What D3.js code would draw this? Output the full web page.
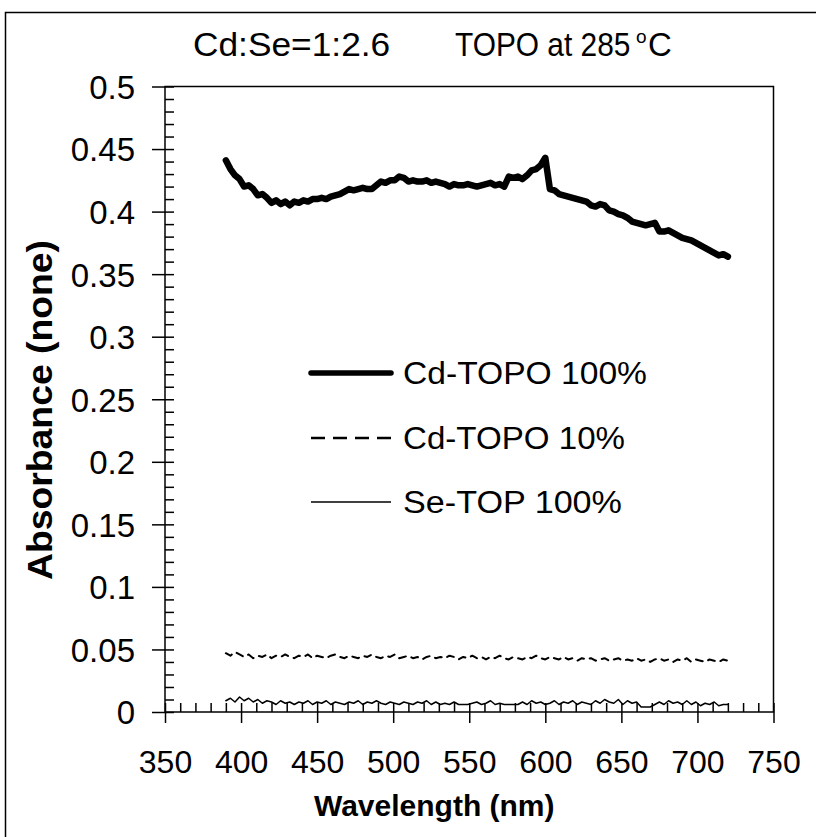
<!DOCTYPE html>
<html>
<head>
<meta charset="utf-8">
<script src="https://cdn.jsdelivr.net/npm/d3@7/dist/d3.min.js"></script>
<style>
  html, body { margin: 0; padding: 0; background: #fff; }
  svg { display: block; }
  text { font-family: "Liberation Sans", Arial, sans-serif; fill: #000; }
</style>
</head>
<body>
<svg id="chart" width="816" height="837"></svg>
<script>
// Absorbance spectra sampled every 3 nm from 390 to 720 nm
const wavelengths = d3.range(390, 721, 3);

const cdTopo100 = [
  0.441, 0.434, 0.429, 0.426, 0.420, 0.421, 0.418, 0.413, 0.414, 0.411,
  0.407, 0.409, 0.406, 0.408, 0.405, 0.408, 0.407, 0.409, 0.408, 0.410,
  0.410, 0.411, 0.410, 0.412, 0.413, 0.414, 0.416, 0.418, 0.417, 0.418,
  0.419, 0.418, 0.418, 0.421, 0.424, 0.423, 0.425, 0.425, 0.428, 0.427,
  0.424, 0.425, 0.424, 0.424, 0.425, 0.423, 0.424, 0.423, 0.422, 0.420,
  0.422, 0.421, 0.421, 0.422, 0.421, 0.420, 0.421, 0.422, 0.423, 0.421,
  0.422, 0.420, 0.428, 0.427, 0.428, 0.426, 0.429, 0.433, 0.434, 0.437,
  0.443, 0.418, 0.417, 0.414, 0.413, 0.412, 0.411, 0.410, 0.409, 0.408,
  0.405, 0.404, 0.406, 0.405, 0.401, 0.400, 0.398, 0.397, 0.395, 0.392,
  0.391, 0.390, 0.389, 0.390, 0.391, 0.384, 0.384, 0.385, 0.383, 0.381,
  0.379, 0.378, 0.377, 0.375, 0.373, 0.371, 0.369, 0.367, 0.365, 0.366,
  0.364
];

const cdTopo10 = [
  0.047, 0.045, 0.048, 0.046, 0.044, 0.046, 0.043, 0.045, 0.044, 0.046,
  0.043, 0.045, 0.044, 0.046, 0.044, 0.043, 0.045, 0.044, 0.046, 0.043,
  0.045, 0.044, 0.043, 0.045, 0.046, 0.044, 0.043, 0.045, 0.044, 0.043,
  0.045, 0.044, 0.046, 0.044, 0.043, 0.045, 0.044, 0.046, 0.043, 0.044,
  0.045, 0.043, 0.044, 0.042, 0.044, 0.045, 0.043, 0.044, 0.043, 0.045,
  0.044, 0.042, 0.044, 0.043, 0.045, 0.043, 0.044, 0.042, 0.044, 0.043,
  0.045, 0.043, 0.042, 0.044, 0.043, 0.042, 0.044, 0.043, 0.045, 0.043,
  0.042, 0.044, 0.043, 0.042, 0.044, 0.042, 0.043, 0.041, 0.043, 0.042,
  0.043, 0.041, 0.042, 0.043, 0.041, 0.042, 0.043, 0.041, 0.042, 0.041,
  0.043, 0.041, 0.042, 0.040, 0.042, 0.043, 0.041, 0.042, 0.040, 0.042,
  0.041, 0.043, 0.040, 0.042, 0.041, 0.040, 0.042, 0.041, 0.040, 0.042,
  0.041
];

const seTop100 = [
  0.009, 0.011, 0.008, 0.012, 0.009, 0.011, 0.008, 0.010, 0.007, 0.009,
  0.008, 0.006, 0.009, 0.007, 0.008, 0.006, 0.008, 0.007, 0.009, 0.006,
  0.008, 0.007, 0.009, 0.006, 0.008, 0.007, 0.006, 0.008, 0.007, 0.009,
  0.006, 0.008, 0.007, 0.009, 0.007, 0.006, 0.008, 0.007, 0.006, 0.008,
  0.007, 0.006, 0.008, 0.007, 0.009, 0.006, 0.008, 0.006, 0.007, 0.006,
  0.008, 0.006, 0.006, 0.006, 0.007, 0.008, 0.006, 0.007, 0.009, 0.006,
  0.007, 0.006, 0.006, 0.006, 0.006, 0.008, 0.006, 0.009, 0.007, 0.008,
  0.006, 0.007, 0.009, 0.006, 0.008, 0.007, 0.009, 0.006, 0.008, 0.007,
  0.006, 0.009, 0.007, 0.010, 0.008, 0.007, 0.010, 0.006, 0.009, 0.007,
  0.008, 0.004, 0.004, 0.004, 0.006, 0.008, 0.006, 0.009, 0.007, 0.008,
  0.006, 0.009, 0.006, 0.008, 0.005, 0.007, 0.006, 0.008, 0.005, 0.006,
  0.006
];

const seriesNames = ["Cd-TOPO 100%", "Cd-TOPO 10%", "Se-TOP 100%"];
const xTicks = [350, 400, 450, 500, 550, 600, 650, 700, 750];
const yTicks = [0, 0.05, 0.1, 0.15, 0.2, 0.25, 0.3, 0.35, 0.4, 0.45, 0.5];
const xMinorStep = 10;
const yMinorStep = 0.01;

const svg = d3.select("#chart");
const W = 816, H = 837;
const plot = { left: 165, right: 773.5, top: 86.5, bottom: 712 };

svg.append("rect").attr("width", W).attr("height", H).attr("fill", "#fff");
// outer chart frame
svg.append("rect")
  .attr("x", 5.5).attr("y", 12.5).attr("width", 840).attr("height", 850)
  .attr("fill", "none").attr("stroke", "#000").attr("stroke-width", 1.5);

const x = d3.scaleLinear().domain([350, 750]).range([plot.left, plot.right]);
const y = d3.scaleLinear().domain([0, 0.5]).range([plot.bottom, plot.top]);

const xMinor = d3.range(350, 750.1, xMinorStep);
const yMinor = d3.range(0, 0.5001, yMinorStep);

// minor ticks (inside)
svg.append("g").attr("transform", `translate(0,${plot.bottom})`)
  .call(d3.axisBottom(x).tickValues(xMinor).tickSize(-9).tickSizeOuter(0).tickFormat(""))
  .call(g => g.select(".domain").remove())
  .call(g => g.selectAll("line").attr("stroke-width", 1.5));
svg.append("g").attr("transform", `translate(${plot.left},0)`)
  .call(d3.axisLeft(y).tickValues(yMinor).tickSize(-9).tickSizeOuter(0).tickFormat(""))
  .call(g => g.select(".domain").remove())
  .call(g => g.selectAll("line").attr("stroke-width", 1.5));

// major ticks with labels (outside)
const xAxis = svg.append("g").attr("transform", `translate(0,${plot.bottom})`)
  .call(d3.axisBottom(x).tickValues(xTicks).tickSize(11).tickSizeOuter(0).tickFormat(d => d))
  .call(g => g.select(".domain").remove())
  .call(g => g.selectAll("line").attr("stroke-width", 1.5));
xAxis.selectAll("text")
  .attr("y", 61).attr("dy", null)
  .style("font-size", "32px").style("font-family", "Liberation Sans, Arial, sans-serif");

const yAxis = svg.append("g").attr("transform", `translate(${plot.left},0)`)
  .call(d3.axisLeft(y).tickValues(yTicks).tickSize(13).tickSizeOuter(0).tickFormat(d => String(d)))
  .call(g => g.select(".domain").remove())
  .call(g => g.selectAll("line").attr("stroke-width", 1.5));
yAxis.selectAll("text")
  .attr("x", -30).attr("dy", "0.36em")
  .style("font-size", "33px").style("font-family", "Liberation Sans, Arial, sans-serif");

// plot frame
svg.append("rect")
  .attr("x", plot.left).attr("y", plot.top)
  .attr("width", plot.right - plot.left).attr("height", plot.bottom - plot.top)
  .attr("fill", "none").attr("stroke", "#000").attr("stroke-width", 1.5);

// series
const series = [
  { name: seriesNames[0], values: cdTopo100, width: 6.5, dash: null },
  { name: seriesNames[1], values: cdTopo10, width: 2, dash: "7,6" },
  { name: seriesNames[2], values: seTop100, width: 1.5, dash: null }
];
const line = d3.line().x(d => x(d[0])).y(d => y(d[1]));
series.forEach(s => {
  svg.append("path")
    .datum(wavelengths.map((w, i) => [w, s.values[i]]))
    .attr("d", line)
    .attr("fill", "none").attr("stroke", "#000")
    .attr("stroke-width", s.width)
    .attr("stroke-linejoin", "round").attr("stroke-linecap", "round")
    .attr("stroke-dasharray", s.dash);
});

// legend
const legendRows = [373, 438, 502];
const legendDash = [null, "14,8", null];
const legendWidths = [244, 222, 219];
series.forEach((s, i) => {
  svg.append("line")
    .attr("x1", 311).attr("x2", 391)
    .attr("y1", legendRows[i]).attr("y2", legendRows[i])
    .attr("stroke", "#000").attr("stroke-width", i === 0 ? 5.5 : (i === 1 ? 2.5 : 1.5))
    .attr("stroke-linecap", i === 0 ? "round" : "butt")
    .attr("stroke-dasharray", legendDash[i]);
  svg.append("text")
    .attr("x", 403).attr("y", legendRows[i]).attr("dy", "0.36em")
    .attr("textLength", legendWidths[i]).attr("lengthAdjust", "spacingAndGlyphs")
    .style("font-size", "31px")
    .text(s.name);
});

// title: "Cd:Se=1:2.6    TOPO at 285 °C"
svg.append("text")
  .attr("transform", "translate(193,56) scale(1.07,1)")
  .style("font-size", "33px")
  .text("Cd:Se=1:2.6");
svg.append("text")
  .attr("transform", "translate(455,56) scale(0.905,1)")
  .style("font-size", "33px")
  .text("TOPO at 285");
svg.append("text")
  .attr("x", 636).attr("y", 43).style("font-size", "19px")
  .text("o");
svg.append("text")
  .attr("x", 648).attr("y", 56).style("font-size", "33px")
  .text("C");

// axis titles
svg.append("text")
  .attr("x", (plot.left + plot.right) / 2 - 35).attr("y", 816)
  .attr("text-anchor", "middle")
  .style("font-size", "30px").style("font-weight", "bold")
  .text("Wavelength (nm)");
svg.append("text")
  .attr("transform", `translate(52,${410}) rotate(-90)`)
  .attr("text-anchor", "middle")
  .attr("textLength", 340).attr("lengthAdjust", "spacingAndGlyphs")
  .style("font-size", "35px").style("font-weight", "bold")
  .text("Absorbance (none)");
</script>
</body>
</html>
